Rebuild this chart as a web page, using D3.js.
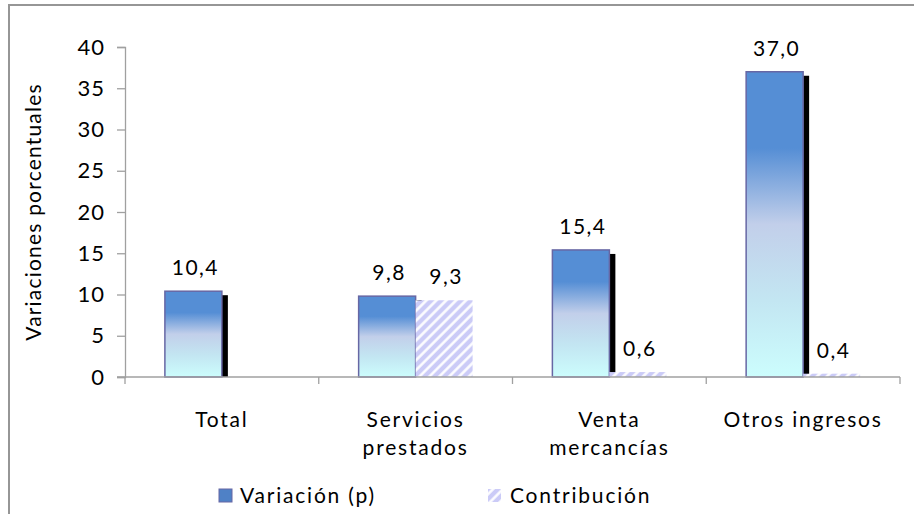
<!DOCTYPE html>
<html>
<head>
<meta charset="utf-8">
<script src="https://cdn.jsdelivr.net/npm/d3@7"></script>
<style>
  body { margin: 0; background: #fff; }
  svg text { font-family: Lato, "Open Sans", sans-serif; fill: #000; }
</style>
</head>
<body>
<div id="chart"></div>
<script>
// chart values
const categories = ["Total", "Servicios prestados", "Venta mercancías", "Otros ingresos"];
const categoryLines = [["Total"], ["Servicios", "prestados"], ["Venta", "mercancías"], ["Otros ingresos"]];
const variacion = [10.4, 9.8, 15.4, 37.0];
const contribucion = [null, 9.3, 0.6, 0.4];
const yTicks = [0, 5, 10, 15, 20, 25, 30, 35, 40];
const seriesNames = ["Variación (p)", "Contribución"];

const width = 914;
const height = 514;

const svg = d3.select("#chart")
  .append("svg")
  .attr("width", width)
  .attr("height", height);

const defs = svg.append("defs");

// blue-to-cyan gradient of the Variación bars
const grad = defs.append("linearGradient")
  .attr("id", "barGrad")
  .attr("x1", "0%").attr("y1", "0%")
  .attr("x2", "0%").attr("y2", "100%");
[["0%", "#558ed5"], ["25%", "#558ed5"], ["50%", "#c2cfea"], ["75%", "#c3e6f2"], ["100%", "#ccfdfd"]]
  .forEach(([o, c]) => grad.append("stop").attr("offset", o).attr("stop-color", c));

// hatch for Contribución
const hatch = defs.append("pattern")
  .attr("id", "hatch")
  .attr("patternUnits", "userSpaceOnUse")
  .attr("width", 7)
  .attr("height", 7)
  .attr("patternTransform", "rotate(45)");
hatch.append("rect").attr("width", 7).attr("height", 7).attr("fill", "#cbcbf7");
hatch.append("line")
  .attr("x1", 1.5).attr("y1", 0).attr("x2", 1.5).attr("y2", 7)
  .attr("stroke", "#fff").attr("stroke-width", 2.5);

// outer frame (right and bottom edges fall outside the view)
svg.append("rect")
  .attr("x", 9).attr("y", 5)
  .attr("width", 1000).attr("height", 1000)
  .attr("fill", "none")
  .attr("stroke", "#969696")
  .attr("stroke-width", 2);

const x = d3.scaleBand().domain(categories).range([125, 900]);
const xs = d3.scaleBand().domain(seriesNames).range([0, x.bandwidth()]).paddingOuter(0.7);
const y = d3.scaleLinear().domain([0, 40]).range([377, 47]);

const fmt = v => d3.format(".1f")(v).replace(".", ",");

// y axis
const yAxis = svg.append("g")
  .attr("transform", "translate(125,0)")
  .call(d3.axisLeft(y).tickValues(yTicks).tickSize(8).tickPadding(12).tickFormat(d3.format("d")));
yAxis.select(".domain").attr("stroke", "#a0a0a0").attr("stroke-width", 1.3);
yAxis.selectAll(".tick line").attr("stroke", "#a0a0a0").attr("stroke-width", 1.3);
yAxis.selectAll("text")
  .attr("font-size", 22)
  .attr("font-family", "Lato, sans-serif")
  .attr("letter-spacing", 1)
  .attr("fill", "#000");

svg.append("text")
  .attr("transform", "translate(41,212) rotate(-90)")
  .attr("text-anchor", "middle")
  .attr("font-size", 21)
  .attr("letter-spacing", 1.2)
  .text("Variaciones porcentuales");

// bars
const groups = svg.append("g")
  .selectAll("g")
  .data(categories)
  .join("g")
  .attr("transform", d => `translate(${x(d)},0)`);

const bw = xs.bandwidth();

// shadow behind the Variación bar
groups.append("rect")
  .attr("x", xs(seriesNames[0]) + bw)
  .attr("y", (d, i) => y(variacion[i]) + 4)
  .attr("width", 6)
  .attr("height", (d, i) => y(0) - y(variacion[i]) - 4)
  .attr("fill", "#000");

groups.append("rect")
  .attr("x", xs(seriesNames[0]))
  .attr("y", (d, i) => y(variacion[i]))
  .attr("width", bw)
  .attr("height", (d, i) => y(0) - y(variacion[i]))
  .attr("fill", "url(#barGrad)")
  .attr("stroke", "#6767a4")
  .attr("stroke-width", 1.5);

groups.filter((d, i) => contribucion[i] != null)
  .append("rect")
  .attr("x", xs(seriesNames[1]))
  .attr("y", d => y(contribucion[categories.indexOf(d)]))
  .attr("width", bw)
  .attr("height", d => y(0) - y(contribucion[categories.indexOf(d)]))
  .attr("fill", "url(#hatch)");

// value labels
groups.append("text")
  .attr("x", xs(seriesNames[0]) + bw / 2 + 2)
  .attr("y", (d, i) => y(variacion[i]) - 16)
  .attr("text-anchor", "middle")
  .attr("font-size", 21)
  .attr("letter-spacing", 1.5)
  .text((d, i) => fmt(variacion[i]));

groups.filter((d, i) => contribucion[i] != null)
  .append("text")
  .attr("x", xs(seriesNames[1]) + bw / 2 + 2)
  .attr("y", d => y(contribucion[categories.indexOf(d)]) - 16)
  .attr("text-anchor", "middle")
  .attr("font-size", 21)
  .attr("letter-spacing", 1.5)
  .text(d => fmt(contribucion[categories.indexOf(d)]));

// x axis
const xAxis = svg.append("g")
  .attr("transform", `translate(0,${y(0)})`);
xAxis.append("line")
  .attr("x1", 117).attr("x2", 900)
  .attr("stroke", "#a0a0a0").attr("stroke-width", 1.3);
xAxis.selectAll(".tk")
  .data(categories.map(c => x(c)).concat([x.range()[1]]))
  .join("line")
  .attr("class", "tk")
  .attr("x1", d => d).attr("x2", d => d)
  .attr("y1", 0).attr("y2", 7)
  .attr("stroke", "#a0a0a0").attr("stroke-width", 1.3);

categories.forEach((c, i) => {
  const t = svg.append("text")
    .attr("x", x(c) + x.bandwidth() / 2)
    .attr("y", 427)
    .attr("text-anchor", "middle")
    .attr("font-size", 21)
    .attr("letter-spacing", 1.8);
  categoryLines[i].forEach((line, j) => {
    t.append("tspan")
      .attr("x", x(c) + x.bandwidth() / 2)
      .attr("dy", j === 0 ? 0 : 28)
      .text(line);
  });
});

// legend
const legend = svg.append("g");
legend.append("rect")
  .attr("x", 219).attr("y", 489).attr("width", 13).attr("height", 13)
  .attr("fill", "#4f81c6").attr("stroke", "#6767a4").attr("stroke-width", 1);
legend.append("text")
  .attr("x", 240).attr("y", 503)
  .attr("font-size", 21).attr("letter-spacing", 1.8)
  .text(seriesNames[0]);
legend.append("rect")
  .attr("x", 488).attr("y", 489).attr("width", 13).attr("height", 13)
  .attr("fill", "url(#hatch)");
legend.append("text")
  .attr("x", 510).attr("y", 503)
  .attr("font-size", 21).attr("letter-spacing", 1.8)
  .text(seriesNames[1]);
</script>
</body>
</html>
